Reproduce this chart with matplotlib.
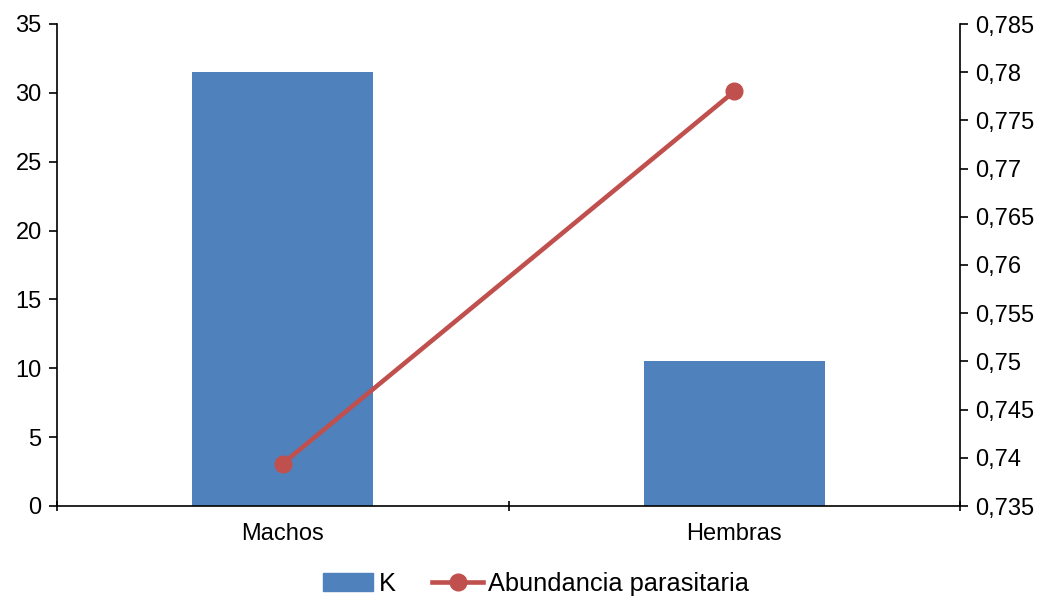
import matplotlib
matplotlib.use("Agg")
import matplotlib.pyplot as plt
from matplotlib.ticker import FuncFormatter, FixedLocator
from matplotlib.lines import Line2D
from matplotlib.patches import Patch

plt.rcParams['font.family'] = ['Liberation Sans', 'DejaVu Sans']

categories = ["Machos", "Hembras"]
k_values = [31.5, 10.5]
abundancia = [0.7394, 0.778]
left_ticks = [0, 5, 10, 15, 20, 25, 30, 35]
right_ticks = [0.735, 0.74, 0.745, 0.75, 0.755, 0.76, 0.765, 0.77, 0.775, 0.78, 0.785]

blue = "#4F81BD"
red = "#C0504D"
fs = 17

fig = plt.figure(figsize=(10.44, 5.96), dpi=100)
ax = fig.add_axes([57/1044, 90/596, (960-57)/1044, (506-24)/596])
x = list(range(len(categories)))
ax.bar(x, k_values, width=0.4, color=blue, zorder=2)
ax.set_xlim(-0.5, 1.5)
ax.set_ylim(0, 35)
ax.yaxis.set_major_locator(FixedLocator(left_ticks))
ax.set_yticklabels([str(v) for v in left_ticks])
ax.xaxis.set_major_locator(FixedLocator([-0.5, 0.5, 1.5]))
ax.xaxis.set_major_formatter(FuncFormatter(lambda v, p: ""))
ax.xaxis.set_minor_locator(FixedLocator(x))
ax.set_xticklabels(categories, minor=True)
ax.tick_params(axis='x', which='minor', length=0, labelsize=fs, pad=12)
ax.tick_params(axis='x', which='major', length=7, width=1.2, direction='inout')
ax.tick_params(axis='y', length=6, width=1.2, labelsize=fs, pad=5)
ax.spines['top'].set_visible(False)
ax.spines['right'].set_visible(False)
for s in ['left', 'bottom']:
    ax.spines[s].set_linewidth(1.2)

ax2 = ax.twinx()
ax2.plot(x, abundancia, color=red, lw=3.3, marker='o', markersize=12, zorder=3)
ax2.set_ylim(0.735, 0.785)
ax2.yaxis.set_major_locator(FixedLocator(right_ticks))
ax2.yaxis.set_major_formatter(FuncFormatter(lambda v, p: (f"{v:.3f}".rstrip('0').rstrip('.')).replace('.', ',')))
ax2.tick_params(axis='y', length=6, width=1.2, labelsize=fs, pad=5)
ax2.spines['top'].set_visible(False)
ax2.spines['left'].set_visible(False)
ax2.spines['bottom'].set_visible(False)
ax2.spines['right'].set_linewidth(1.2)

handles = [Patch(color=blue, label="K"),
           Line2D([0], [0], color=red, lw=3.3, marker='o', markersize=12, label="Abundancia parasitaria")]
fig.legend(handles=handles, loc='center', bbox_to_anchor=(536/1044, 12/596), ncol=2, frameon=False,
           fontsize=18.3, handlelength=2.0, handletextpad=0.2, columnspacing=1.45)

fig.savefig("out.png", dpi=100)
